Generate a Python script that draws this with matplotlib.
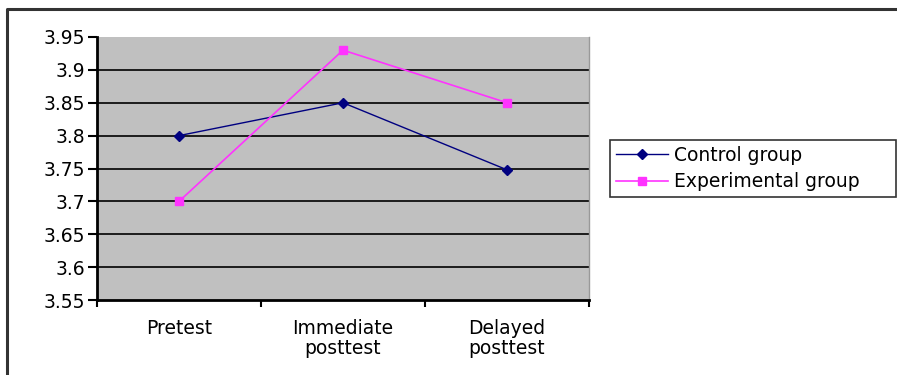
import numpy as np
from matplotlib import pyplot as plt
from matplotlib.lines import Line2D

categories = ['Pretest', 'Immediate\nposttest', 'Delayed\nposttest']
control = [3.80, 3.85, 3.748]
experimental = [3.70, 3.93, 3.85]
yticks = [3.55, 3.6, 3.65, 3.7, 3.75, 3.8, 3.85, 3.9, 3.95]

plt.rcParams['font.family'] = ['DejaVu Sans']

W, H = 897, 375
fig = plt.figure(figsize=(W / 100, H / 100), dpi=100)
fig.patch.set_facecolor('white')

# outer chart border (left and top visible)
fig.lines.append(Line2D([7 / W, 7 / W, 1.0], [0.0, 1 - 9 / H, 1 - 9 / H],
                        transform=fig.transFigure, color='#333333',
                        linewidth=2.2))

ax = fig.add_axes([97 / W, 1 - 300 / H, (589 - 97) / W, (300 - 37) / H])
ax.set_facecolor('#c0c0c0')

x = np.arange(len(categories))
ax.plot(x, control, color='#000080', marker='D', markersize=5,
        linewidth=1, label='Control group')
ax.plot(x, experimental, color='#ff33ff', marker='s', markersize=6,
        linewidth=1.2, label='Experimental group')

ax.set_xlim(-0.5, len(categories) - 0.5)
ax.set_ylim(3.55, 3.95)
ax.set_yticks(yticks)
ax.set_yticklabels([f'{v:g}' for v in yticks], fontsize=13.5)
for v in yticks[1:-1]:
    ax.axhline(v, color='black', linewidth=1.2, zorder=0.5)

ax.set_xticks(x)
ax.set_xticklabels(categories, fontsize=13.5, linespacing=1.05)
ax.set_xticks(np.arange(len(categories) + 1) - 0.5, minor=True)
ax.tick_params(axis='x', which='major', length=0, pad=14)
ax.tick_params(axis='x', which='minor', length=5, width=1.5, direction='out')
ax.tick_params(axis='y', length=6.5, width=1.5, direction='out', pad=2)

ax.spines['top'].set_visible(False)
ax.spines['right'].set_color('#999999')
ax.spines['right'].set_linewidth(1)
ax.spines['left'].set_linewidth(2)
ax.spines['bottom'].set_linewidth(2)

leg = fig.legend(loc='upper left',
                 bbox_to_anchor=(610 / W, 1 - 140 / H, 286 / W, 0),
                 mode='expand', fontsize=13.5, frameon=True, fancybox=False,
                 borderpad=0.3, labelspacing=0.42, handlelength=2.8,
                 handletextpad=0.3, borderaxespad=0)
leg.get_frame().set_edgecolor('black')
leg.get_frame().set_linewidth(1.2)

fig.savefig('out.png', dpi=100)
